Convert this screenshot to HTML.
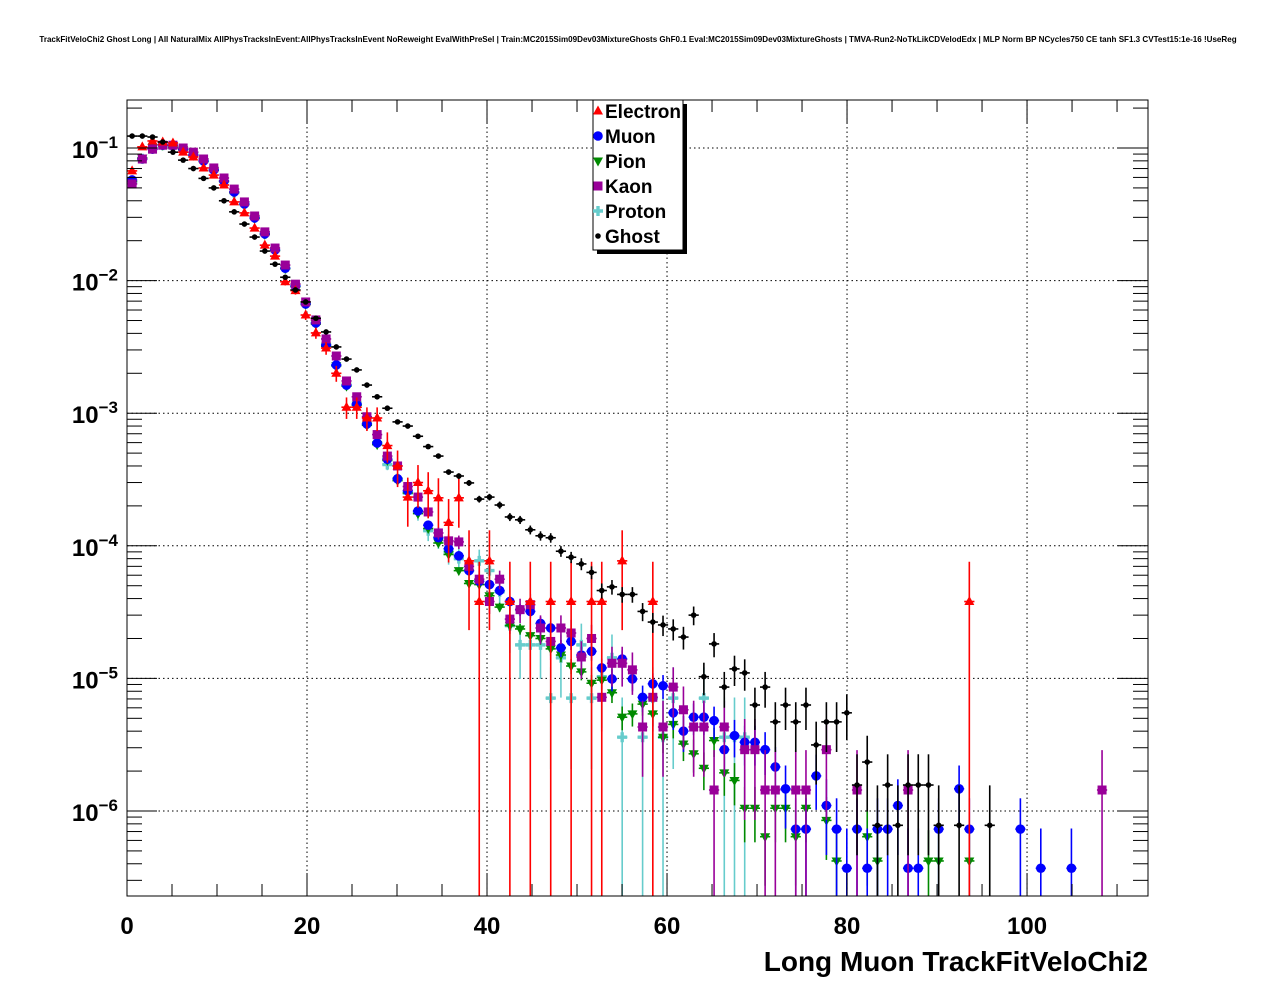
<!DOCTYPE html>
<html><head><meta charset="utf-8"><style>
html,body{margin:0;padding:0;background:#fff;}
svg{display:block;font-family:"Liberation Sans",Arial,sans-serif;}
</style></head><body>
<svg id="chart" width="1276" height="996" viewBox="0 0 1276 996" xmlns="http://www.w3.org/2000/svg">
<rect x="0" y="0" width="1276" height="996" fill="#fff"/>
<text x="638" y="42" text-anchor="middle" font-size="8.05" font-weight="bold">TrackFitVeloChi2 Ghost Long | All NaturalMix AllPhysTracksInEvent:AllPhysTracksInEvent NoReweight EvalWithPreSel | Train:MC2015Sim09Dev03MixtureGhosts GhF0.1 Eval:MC2015Sim09Dev03MixtureGhosts | TMVA-Run2-NoTkLikCDVelodEdx | MLP Norm BP NCycles750 CE tanh SF1.3 CVTest15:1e-16 !UseReg</text>
<g id="grid"></g>
<g id="series"></g>
<rect x="127" y="100" width="1021" height="796" fill="none" stroke="#000" stroke-width="1"/>
<g id="axes"></g>
<text x="1148" y="971" text-anchor="end" font-size="28" font-weight="bold">Long Muon TrackFitVeloChi2</text>
<g id="legend"></g>
</svg>
<script>
const binCount = 100;
const xMax = 113.44;
const xTicks = [0, 20, 40, 60, 80, 100];
const yDecades = [-1, -2, -3, -4, -5, -6];
const seriesNames = ["Electron", "Muon", "Pion", "Kaon", "Proton", "Ghost"];

const electron = [0.0672,0.102,0.113,0.111,0.109,0.093,0.0855,0.0707,0.0625,0.0526,0.0392,0.0324,0.0249,0.0185,0.0153,0.0098,0.0084,0.0055,0.00403,0.0031,0.002,0.00111,0.00111,9.2e-4,9.2e-4,5.7e-4,4.0e-4,2.33e-4,3.0e-4,2.6e-4,2.3e-4,1.5e-4,2.3e-4,7.7e-5,3.8e-5,7.7e-5,0,3.8e-5,0,3.8e-5,0,3.8e-5,0,3.8e-5,0,3.8e-5,3.8e-5,0,7.7e-5,0,0,3.8e-5,0,0,0,0,0,0,0,0,0,0,0,0,0,0,0,0,0,0,0,0,0,0,0,0,0,0,0,0,0,0,3.8e-5];
const muon = [0.0574,0.0826,0.098,0.105,0.104,0.098,0.0885,0.0798,0.0683,0.0564,0.0466,0.0378,0.0297,0.0225,0.017,0.0124,0.0091,0.00667,0.00479,0.00327,0.00231,0.00163,0.00117,8.3e-4,5.96e-4,4.5e-4,3.2e-4,2.6e-4,1.83e-4,1.43e-4,1.15e-4,9.5e-5,8.4e-5,6.5e-5,5.4e-5,5.1e-5,4.6e-5,3.8e-5,3.3e-5,3.2e-5,2.6e-5,2.4e-5,1.7e-5,1.9e-5,1.5e-5,1.6e-5,1.2e-5,9.9e-6,1.4e-5,9.9e-6,7.2e-6,9.1e-6,8.8e-6,5.5e-6,4.0e-6,5.1e-6,5.1e-6,4.8e-6,2.9e-6,3.7e-6,3.3e-6,3.3e-6,2.9e-6,2.15e-6,1.47e-6,7.3e-7,7.3e-7,1.84e-6,1.1e-6,7.3e-7,3.7e-7,7.3e-7,3.7e-7,7.3e-7,7.3e-7,1.1e-6,3.7e-7,3.7e-7,0,7.3e-7,0,1.47e-6,7.3e-7,0,0,0,0,7.3e-7,0,3.7e-7,0,0,3.7e-7];
const pion = [0.056,0.084,0.1,0.105,0.104,0.097,0.088,0.079,0.068,0.056,0.046,0.0375,0.0295,0.0223,0.0168,0.0123,0.009,0.0066,0.0047,0.0032,0.00228,0.0016,0.00115,8.1e-4,5.8e-4,4.4e-4,3.1e-4,2.5e-4,1.75e-4,1.35e-4,1.05e-4,8.6e-5,6.5e-5,5.2e-5,5.1e-5,4.2e-5,3.45e-5,2.5e-5,2.36e-5,2.1e-5,2.0e-5,1.67e-5,1.5e-5,1.24e-5,1.12e-5,9.2e-6,9.7e-6,7.8e-6,5.1e-6,5.4e-6,6.4e-6,5.4e-6,3.6e-6,4.5e-6,3.2e-6,2.7e-6,2.1e-6,3.4e-6,1.94e-6,1.7e-6,1.05e-6,1.05e-6,6.4e-7,1.05e-6,1.05e-6,6.4e-7,1.05e-6,0,8.5e-7,4.2e-7,0,0,6.4e-7,4.2e-7,0,0,0,0,4.2e-7,4.2e-7,0,0,4.2e-7];
const kaon = [0.0536,0.0826,0.098,0.105,0.105,0.1,0.093,0.0826,0.0707,0.0594,0.049,0.0392,0.0307,0.0233,0.0176,0.0131,0.0094,0.0069,0.00505,0.00363,0.0027,0.00175,0.00133,9.4e-4,6.9e-4,4.75e-4,4.0e-4,2.8e-4,2.33e-4,1.8e-4,1.25e-4,1.09e-4,1.07e-4,7.0e-5,5.6e-5,3.8e-5,5.6e-5,2.8e-5,3.3e-5,3.6e-5,2.4e-5,1.9e-5,2.4e-5,2.2e-5,1.45e-5,2.0e-5,7.2e-6,1.3e-5,1.3e-5,1.16e-5,4.3e-6,7.2e-6,4.3e-6,8.6e-6,5.8e-6,4.3e-6,4.3e-6,1.44e-6,4.3e-6,0,2.9e-6,2.9e-6,1.44e-6,1.44e-6,0,1.44e-6,1.44e-6,0,2.9e-6,0,0,1.44e-6,0,0,0,0,1.44e-6,0,0,0,0,0,0,0,0,0,0,0,0,0,0,0,0,0,0,1.44e-6];
const proton = [0.055,0.083,0.099,0.105,0.104,0.098,0.089,0.08,0.068,0.056,0.046,0.0378,0.0297,0.0225,0.017,0.0124,0.0091,0.0067,0.0048,0.0033,0.0023,0.00163,0.00117,8.3e-4,6.0e-4,4.1e-4,3.2e-4,2.5e-4,1.8e-4,1.3e-4,1.15e-4,9.0e-5,8.0e-5,6.5e-5,7.7e-5,6.5e-5,4.5e-5,2.5e-5,1.79e-5,1.79e-5,1.79e-5,7.1e-6,1.43e-5,7.1e-6,1.79e-5,7.1e-6,1.03e-5,1.43e-5,3.6e-6,0,3.6e-6,7.1e-6,3.6e-6,7.1e-6,0,0,7.1e-6,0,3.6e-6,3.6e-6,3.6e-6];
const ghost = [0.123,0.123,0.121,0.111,0.093,0.081,0.070,0.059,0.050,0.040,0.033,0.0267,0.0213,0.0167,0.0133,0.0106,0.0085,0.0069,0.0052,0.0041,0.00316,0.00256,0.00212,0.00163,0.00133,0.00109,8.6e-4,8.0e-4,6.7e-4,5.6e-4,4.75e-4,3.6e-4,3.36e-4,2.98e-4,2.25e-4,2.33e-4,2.03e-4,1.65e-4,1.57e-4,1.32e-4,1.19e-4,1.15e-4,9.1e-5,8.2e-5,7.3e-5,6.3e-5,4.6e-5,4.9e-5,4.3e-5,4.3e-5,3.2e-5,2.66e-5,2.53e-5,2.36e-5,2.05e-5,3.0e-5,1.03e-5,1.82e-5,8.6e-6,1.18e-5,1.10e-5,6.3e-6,8.6e-6,4.7e-6,6.3e-6,4.7e-6,6.3e-6,3.15e-6,4.7e-6,4.7e-6,5.5e-6,1.57e-6,2.34e-6,7.8e-7,1.57e-6,7.8e-7,1.57e-6,1.57e-6,1.57e-6,7.8e-7,0,7.8e-7,0,0,7.8e-7];
const unitWeights = [3.77e-5, 3.66e-7, 2.1e-7, 1.44e-6, 3.56e-6, 7.8e-7];

const NS = "http://www.w3.org/2000/svg";
const PX0 = 127, PX1 = 1148, PY0 = 100, PY1 = 896;
function X(v){ return PX0 + v * (PX1 - PX0) / xMax; }
function Y(v){ return 148 - (Math.log10(v) + 1) * 132.6; }
function mk(tag, attrs, parent){ const e = document.createElementNS(NS, tag); for (const k in attrs) e.setAttribute(k, attrs[k]); parent.appendChild(e); return e; }

const grid = document.getElementById('grid');
const axes = document.getElementById('axes');
xTicks.forEach(t => {
  if (t > 0) {
    const gl = mk('line', {x1:X(t), x2:X(t), y1:PY0, y2:PY1, stroke:'#000', 'stroke-width':1, 'stroke-dasharray':'1.5,3'}, grid);
    
    
  }
  const lab = mk('text', {x:X(t), y:934, 'text-anchor':'middle', 'font-size':24, 'font-weight':'bold'}, axes);
  lab.textContent = String(t);
  
  
});
for (let t = 0; t <= xMax; t += 5) {
  const len = (t % 20 === 0) ? 23 : 12;
  const a = mk('line', {x1:X(t), x2:X(t), y1:PY1, y2:PY1-len, stroke:'#000', 'stroke-width':1}, axes);
  
  
  const b = mk('line', {x1:X(t), x2:X(t), y1:PY0, y2:PY0+len, stroke:'#000', 'stroke-width':1}, axes);
  
  
}
yDecades.forEach(d => {
  const y = Y(Math.pow(10, d));
  const gl = mk('line', {x1:PX0, x2:PX1, y1:y, y2:y, stroke:'#000', 'stroke-width':1, 'stroke-dasharray':'1.5,3'}, grid);
  
  
  const t = mk('text', {x:118, y:y+10, 'text-anchor':'end', 'font-size':24, 'font-weight':'bold'}, axes);
  
  
  const s1 = document.createElementNS(NS, 'tspan'); s1.textContent = '10'; t.appendChild(s1);
  const s2 = document.createElementNS(NS, 'tspan'); s2.setAttribute('dy', '-10'); s2.setAttribute('font-size', '17'); s2.textContent = '\u2212' + (-d); t.appendChild(s2);
});
for (let d = -7; d <= -1; d++) {
  for (let m = 1; m <= 9; m++) {
    const v = m * Math.pow(10, d);
    const y = Y(v);
    if (y < PY0 || y > PY1) continue;
    const len = m === 1 ? 30 : 15;
    const a = mk('line', {x1:PX0, x2:PX0+len, y1:y, y2:y, stroke:'#000', 'stroke-width':1}, axes);
    
    
    const b = mk('line', {x1:PX1, x2:PX1-len, y1:y, y2:y, stroke:'#000', 'stroke-width':1}, axes);
    
    
  }
}

function marker(kind, cx, cy, color, parent){
  let e;
  if (kind === 'tri') e = mk('polygon', {points:`${cx},${cy-5.5} ${cx-5},${cy+3.5} ${cx+5},${cy+3.5}`, fill:color}, parent);
  else if (kind === 'tridown') e = mk('polygon', {points:`${cx},${cy+5.5} ${cx-5},${cy-3.5} ${cx+5},${cy-3.5}`, fill:color}, parent);
  else if (kind === 'circle') e = mk('circle', {cx:cx, cy:cy, r:4.8, fill:color}, parent);
  else if (kind === 'square') e = mk('rect', {x:cx-4.5, y:cy-4.5, width:9, height:9, fill:color}, parent);
  else if (kind === 'cross') e = mk('path', {d:`M${cx-1.7},${cy-5}h3.4v3.3h3.3v3.4h-3.3v3.3h-3.4v-3.3h-3.3v-3.4h3.3z`, fill:color}, parent);
  else e = mk('circle', {cx:cx, cy:cy, r:2.8, fill:color}, parent);
  return e;
}

const seriesData = [electron, muon, pion, kaon, proton, ghost];
const colors = ['#ff0000', '#0000ff', '#008a00', '#990099', '#66cccc', '#000000'];
const kinds = ['tri', 'circle', 'tridown', 'square', 'cross', 'dot'];
const drawOrder = [4, 2, 1, 3, 0, 5];
const layer = document.getElementById('series');
const binW = xMax / binCount;
drawOrder.forEach(si => {
  const g = mk('g', {}, layer);
  
  
  const data = seriesData[si];
  data.forEach((v, i) => {
    if (!(v > 0)) return;
    const xc = X((i + 0.5) * binW);
    const yc = Y(v);
    if (yc > PY1 || yc < PY0) return;
    const err = Math.sqrt(v * unitWeights[si]);
    const yTop = Math.max(PY0, Y(v + err));
    const yBot = (v - err) > 1e-9 ? Math.min(PY1, Y(v - err)) : PY1;
    const pt = mk('g', {}, g);
    
    
    mk('line', {x1:xc, x2:xc, y1:yTop, y2:yBot, stroke:colors[si], 'stroke-width':1.6}, pt);
    mk('line', {x1:X(i * binW), x2:X((i + 1) * binW), y1:yc, y2:yc, stroke:colors[si], 'stroke-width':1.6}, pt);
    marker(kinds[si], xc, yc, colors[si], pt);
  });
});

const leg = document.getElementById('legend');
const shadow = mk('rect', {x:597, y:104, width:90, height:150, fill:'#000'}, leg);


const box = mk('rect', {x:593, y:100, width:90, height:150, fill:'#fff', stroke:'#000', 'stroke-width':1}, leg);


seriesNames.forEach((n, k) => {
  const y = 111 + k * 25;
  const eg = mk('g', {}, leg);
  
  
  marker(kinds[k], 598, y, colors[k], eg);
  const t = mk('text', {x:605, y:y+7, 'font-size':19, 'font-weight':'bold'}, eg);
  t.textContent = n;
});
</script>
</body></html>
